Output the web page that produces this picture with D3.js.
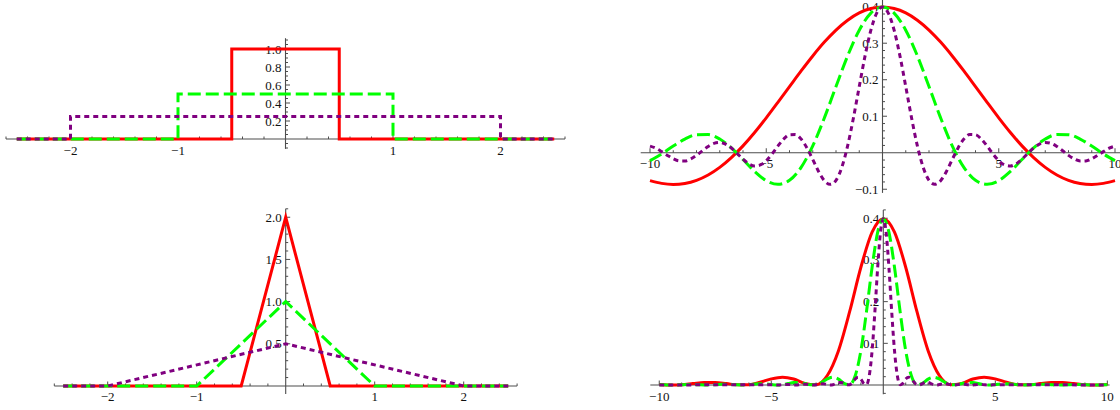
<!DOCTYPE html>
<html>
<head>
<meta charset="utf-8">
<script src="https://cdn.jsdelivr.net/npm/d3@7"></script>
<style>
body { margin:0; background:#fff; }
svg { display:block; }
</style>
</head>
<body>
<div id="chart"></div>
<script>
// ---------- data ----------

// top left: the three boxes
var boxRedX = [-2.5, -0.5, -0.5, 0.5, 0.5, 2.5];
var boxRedY = [0, 0, 1, 1, 0, 0];
var boxGreenX = [-2.5, -1, -1, 1, 1, 2.5];
var boxGreenY = [0, 0, 0.5, 0.5, 0, 0];
var boxPurpleX = [-2.5, -2, -2, 2, 2, 2.5];
var boxPurpleY = [0, 0, 0.25, 0.25, 0, 0];

// bottom left: the triangles
var triRedX = [-2.5, -0.5, 0, 0.5, 2.5];
var triRedY = [0, 0, 2, 0, 0];
var triGreenX = [-2.5, -1, 0, 1, 2.5];
var triGreenY = [0, 0, 1, 0, 0];
var triPurpleX = [-2.5, -2, 0, 2, 2.5];
var triPurpleY = [0, 0, 0.5, 0, 0];

// sample positions used on the right hand plots
var kHalf = d3.range(-10, 10.001, 0.5);      // 41 points
var kQuarter = d3.range(-10, 10.001, 0.25);  // 81 points
var kEighth = [-10].concat(d3.range(-5, 5.001, 0.125), [10]); // 83 points

// top right (sinc shapes)
var ftRed = [-0.0765, -0.0839, -0.0867, -0.084, -0.0755, -0.0608, -0.040, -0.0133, 0.0188, 0.0554,
  0.0955, 0.138, 0.181, 0.224, 0.265, 0.303, 0.336, 0.363, 0.383, 0.395,
  0.399,
  0.395, 0.383, 0.363, 0.336, 0.303, 0.265, 0.224, 0.181, 0.138, 0.0955,
  0.0554, 0.0188, -0.0133, -0.040, -0.0608, -0.0755, -0.084, -0.0867, -0.0839, -0.0765];

var ftGreen = [-0.0217, -0.0032, 0.0183, 0.0375, 0.0493, 0.0499, 0.0375, 0.0132, -0.0186, -0.0512,
  -0.0765, -0.0866, -0.0755, -0.0400, 0.0187, 0.0955, 0.1813, 0.2653, 0.3357, 0.3825,
  0.399,
  0.3825, 0.3357, 0.2653, 0.1813, 0.0955, 0.0187, -0.0400, -0.0755, -0.0866, -0.0765,
  -0.0512, -0.0186, 0.0132, 0.0375, 0.0499, 0.0493, 0.0375, 0.0183, -0.0032, -0.0217];

var ftPurple = [0.0182, 0.0124, 0.0031, -0.0073, -0.0166, -0.0223, -0.0226, -0.0172, -0.0072, 0.0053,
  0.0173, 0.0257, 0.0282, 0.0237, 0.0129, -0.0021, -0.0178, -0.0304, -0.0363, -0.0334,
  -0.0217, -0.0032, 0.0183, 0.0375, 0.0493, 0.0499, 0.0375, 0.0132, -0.0186, -0.0512,
  -0.0765, -0.0866, -0.0755, -0.0400, 0.0187, 0.0955, 0.1813, 0.2653, 0.3357, 0.3825,
  0.399,
  0.3825, 0.3357, 0.2653, 0.1813, 0.0955, 0.0187, -0.0400, -0.0755, -0.0866, -0.0765,
  -0.0512, -0.0186, 0.0132, 0.0375, 0.0499, 0.0493, 0.0375, 0.0183, -0.0032, -0.0217,
  -0.0334, -0.0363, -0.0304, -0.0178, -0.0021, 0.0129, 0.0237, 0.0282, 0.0257, 0.0173,
  0.0053, -0.0072, -0.0172, -0.0226, -0.0223, -0.0166, -0.0073, 0.0031, 0.0124, 0.0182];

// bottom right (squared sinc shapes)
var ptRed = [0.0012, 0.0000, 0.0008, 0.0035, 0.0061, 0.0062, 0.0035, 0.0004, 0.0009, 0.0066,
  0.0147, 0.0188, 0.0143, 0.0040, 0.0009, 0.0229, 0.0824, 0.1764, 0.2825, 0.3668,
  0.399,
  0.3668, 0.2825, 0.1764, 0.0824, 0.0229, 0.0009, 0.0040, 0.0143, 0.0188, 0.0147,
  0.0066, 0.0009, 0.0004, 0.0035, 0.0062, 0.0061, 0.0035, 0.0008, 0.0000, 0.0012];

var ptGreen = [0.0008, 0.0004, 0.0000, 0.0001, 0.0007, 0.0013, 0.0013, 0.0007, 0.0001, 0.0001,
  0.0008, 0.0017, 0.0020, 0.0014, 0.0004, 0.0000, 0.0008, 0.0023, 0.0033, 0.0028,
  0.0012, 0.0000, 0.0008, 0.0035, 0.0061, 0.0062, 0.0035, 0.0004, 0.0009, 0.0066,
  0.0147, 0.0188, 0.0143, 0.0040, 0.0009, 0.0229, 0.0824, 0.1764, 0.2825, 0.3668,
  0.399,
  0.3668, 0.2825, 0.1764, 0.0824, 0.0229, 0.0009, 0.0040, 0.0143, 0.0188, 0.0147,
  0.0066, 0.0009, 0.0004, 0.0035, 0.0062, 0.0061, 0.0035, 0.0008, 0.0000, 0.0012,
  0.0028, 0.0033, 0.0023, 0.0008, 0.0000, 0.0004, 0.0014, 0.0020, 0.0017, 0.0008,
  0.0001, 0.0001, 0.0007, 0.0013, 0.0013, 0.0007, 0.0001, 0.0000, 0.0004, 0.0008];

var ptPurple = [0,
  0.0008, 0.0004, 0.0000, 0.0001, 0.0007, 0.0013, 0.0013, 0.0007, 0.0001, 0.0001,
  0.0008, 0.0017, 0.0020, 0.0014, 0.0004, 0.0000, 0.0008, 0.0023, 0.0033, 0.0028,
  0.0012, 0.0000, 0.0008, 0.0035, 0.0061, 0.0062, 0.0035, 0.0004, 0.0009, 0.0066,
  0.0147, 0.0188, 0.0143, 0.0040, 0.0009, 0.0229, 0.0824, 0.1764, 0.2825, 0.3668,
  0.399,
  0.3668, 0.2825, 0.1764, 0.0824, 0.0229, 0.0009, 0.0040, 0.0143, 0.0188, 0.0147,
  0.0066, 0.0009, 0.0004, 0.0035, 0.0062, 0.0061, 0.0035, 0.0008, 0.0000, 0.0012,
  0.0028, 0.0033, 0.0023, 0.0008, 0.0000, 0.0004, 0.0014, 0.0020, 0.0017, 0.0008,
  0.0001, 0.0001, 0.0007, 0.0013, 0.0013, 0.0007, 0.0001, 0.0000, 0.0004, 0.0008,
  0];

// tick labels
var leftXTicks = [-2, -1, 1, 2];
var boxYTicks = [0.2, 0.4, 0.6, 0.8, 1.0];
var triYTicks = [0.5, 1.0, 1.5, 2.0];
var rightXTicks = [-10, -5, 5, 10];
var ftYTicks = [-0.1, 0.1, 0.2, 0.3, 0.4];
var ptYTicks = [0.1, 0.2, 0.3, 0.4];

// ---------- drawing ----------
var RED = "#ff0000", GREEN = "#00ff00", PURPLE = "#800080";

var svg = d3.select("#chart").append("svg")
    .attr("width", 1120).attr("height", 410);

function minorList(lo, hi, step) {
  return d3.range(Math.ceil(lo / step), Math.floor(hi / step) + 1)
    .map(function (i) { return +(i * step).toFixed(6); })
    .filter(function (v) { return Math.abs(v) > 1e-9; });
}

function drawPanel(p) {
  var x = d3.scaleLinear().domain(p.xDom).range(p.xPix);
  var y = d3.scaleLinear().domain(p.yDom).range(p.yPix);
  var g = svg.append("g");
  var axisCol = "#4d4d4d";
  var axX = p.axisX || p.xDom;

  // axes
  g.append("line")
    .attr("x1", x(axX[0])).attr("x2", x(axX[1]))
    .attr("y1", y(0)).attr("y2", y(0))
    .attr("stroke", axisCol).attr("stroke-width", 1.1);
  g.append("line")
    .attr("x1", x(0)).attr("x2", x(0))
    .attr("y1", y(p.yDom[0])).attr("y2", y(p.yDom[1]))
    .attr("stroke", axisCol).attr("stroke-width", 1.1);

  // x ticks (point up)
  var xMinor = minorList(axX[0], axX[1], p.xMinor);
  g.selectAll(".xt").data(xMinor).enter().append("line")
    .attr("x1", function (d) { return x(d); }).attr("x2", function (d) { return x(d); })
    .attr("y1", y(0))
    .attr("y2", function (d) {
      var major = p.xTicks.some(function (t) { return Math.abs(t - d) < 1e-6; });
      return y(0) - (major ? 4.5 : 2.5);
    })
    .attr("stroke", axisCol).attr("stroke-width", 1);

  // y ticks (point right)
  var yMinor = minorList(p.yDom[0], p.yDom[1], p.yMinor);
  g.selectAll(".yt").data(yMinor).enter().append("line")
    .attr("y1", function (d) { return y(d); }).attr("y2", function (d) { return y(d); })
    .attr("x1", x(0))
    .attr("x2", function (d) {
      var major = p.yTicks.some(function (t) { return Math.abs(t - d) < 1e-6; });
      return x(0) + (major ? 4.5 : 2.5);
    })
    .attr("stroke", axisCol).attr("stroke-width", 1);

  var fmtX = d3.format("d");
  g.selectAll(".xl").data(p.xTicks).enter().append("text")
    .attr("x", function (d) { return x(d); })
    .attr("y", y(0) + 15.5)
    .attr("text-anchor", "middle")
    .attr("font-family", "Liberation Serif, Times New Roman, serif")
    .attr("font-size", "13px")
    .attr("fill", "#111")
    .text(function (d) { return fmtX(d); });

  var fmtY = d3.format(".1f");
  g.selectAll(".yl").data(p.yTicks).enter().append("text")
    .attr("x", x(0) - 4)
    .attr("y", function (d) { return y(d) + 4.5; })
    .attr("text-anchor", "end")
    .attr("font-family", "Liberation Serif, Times New Roman, serif")
    .attr("font-size", "13px")
    .attr("fill", "#111")
    .text(function (d) { return fmtY(d); });

  // curves, drawn in order so purple ends on top
  p.series.forEach(function (s) {
    var pts = d3.zip(s.xs, s.ys);
    if (s.xs.length !== s.ys.length) console.warn("length mismatch", s.xs.length, s.ys.length);
    var line = d3.line()
      .x(function (d) { return x(d[0]); })
      .y(function (d) { return y(d[1]); })
      .curve(p.smooth ? d3.curveMonotoneX : d3.curveLinear);
    g.append("path")
      .attr("d", line(pts))
      .attr("fill", "none")
      .attr("stroke", s.color)
      .attr("stroke-width", 3)
      .attr("stroke-dasharray", s.dash)
      .attr("stroke-linejoin", "miter");
  });
}

var panels = [
  { // top left
    xDom: [-2.6, 2.6], xPix: [6, 565],
    yDom: [-0.11, 1.12], yPix: [148.9, 38.2],
    xTicks: leftXTicks, xMinor: 0.2,
    yTicks: boxYTicks, yMinor: 0.05,
    smooth: false,
    series: [
      { xs: boxRedX, ys: boxRedY, color: RED, dash: null },
      { xs: boxGreenX, ys: boxGreenY, color: GREEN, dash: "13,5" },
      { xs: boxPurpleX, ys: boxPurpleY, color: PURPLE, dash: "5,4" }
    ]
  },
  { // bottom left
    xDom: [-2.6, 2.6], xPix: [54.3, 517.1],
    yDom: [-0.095, 2.1], yPix: [394, 208.8],
    xTicks: leftXTicks, xMinor: 0.2,
    yTicks: triYTicks, yMinor: 0.1,
    smooth: false,
    series: [
      { xs: triRedX, ys: triRedY, color: RED, dash: null },
      { xs: triGreenX, ys: triGreenY, color: GREEN, dash: "13,5" },
      { xs: triPurpleX, ys: triPurpleY, color: PURPLE, dash: "5,4" }
    ]
  },
  { // top right
    xDom: [-10.4, 10.4], xPix: [640.7, 1124.3],
    yDom: [-0.11, 0.42], yPix: [192.9, -0.6],
    xTicks: rightXTicks, xMinor: 1,
    yTicks: ftYTicks, yMinor: 0.02,
    smooth: true,
    series: [
      { xs: kHalf, ys: ftRed, color: RED, dash: null },
      { xs: kHalf, ys: ftGreen, color: GREEN, dash: "13,5" },
      { xs: kQuarter, ys: ftPurple, color: PURPLE, dash: "5,4" }
    ]
  },
  { // bottom right
    xDom: [-10.4, 10.4], xPix: [650.3, 1116.3],
    axisX: [-10.4, 10.1],
    yDom: [-0.022, 0.42], yPix: [394.2, 209.9],
    xTicks: rightXTicks, xMinor: 1,
    yTicks: ptYTicks, yMinor: 0.02,
    smooth: true,
    series: [
      { xs: kHalf, ys: ptRed, color: RED, dash: null },
      { xs: kQuarter, ys: ptGreen, color: GREEN, dash: "13,5" },
      { xs: kEighth, ys: ptPurple, color: PURPLE, dash: "5,4" }
    ]
  }
];

panels.forEach(drawPanel);
</script>
</body>
</html>
